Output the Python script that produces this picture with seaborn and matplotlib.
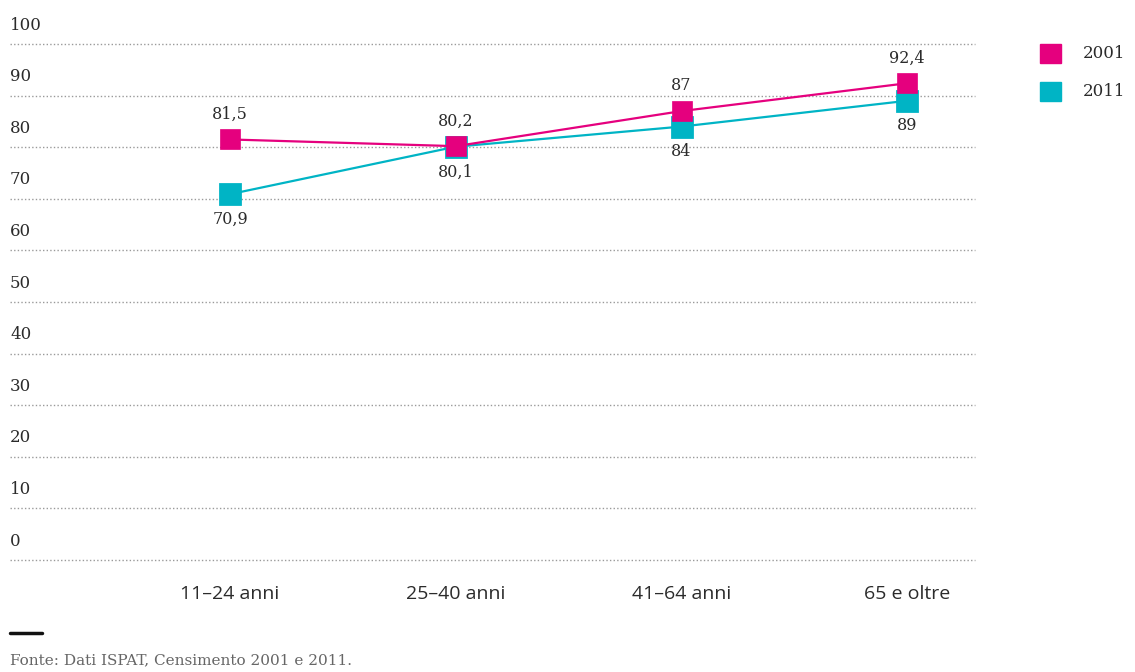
import pandas as pd
import seaborn as sns
import matplotlib.pyplot as plt

# data
categories = ['11–24 anni', '25–40 anni', '41–64 anni', '65 e oltre']
values_2001 = [81.5, 80.2, 87, 92.4]
values_2011 = [70.9, 80.1, 84, 89]
labels_2001 = ['81,5', '80,2', '87', '92,4']
labels_2011 = ['70,9', '80,1', '84', '89']
y_ticks = [0, 10, 20, 30, 40, 50, 60, 70, 80, 90, 100]
years = ['2001', '2011']

PINK = '#e5007e'
CYAN = '#00b4c5'
TEXT = '#2b2b2b'
SERIF = ['DejaVu Serif']


def make_chart():
    df = pd.DataFrame({
        'categoria': categories * 2,
        'valore': values_2001 + values_2011,
        'anno': ['2001'] * 4 + ['2011'] * 4,
    })
    df['x'] = df['categoria'].map({c: i for i, c in enumerate(categories)})

    sns.set_style('white')
    fig = plt.figure(figsize=(11.35, 6.72), dpi=100)
    ax = fig.add_axes([10 / 1135, 1 - 560 / 672, 965 / 1135, (560 - 44) / 672])

    # dotted gridlines with the value written above each one
    for t in y_ticks:
        ax.axhline(t, color='#9a9a9a', lw=1.0, ls=(0, (1, 1.6)), zorder=0, clip_on=False)
        ax.text(0.0, t + 2.0, str(t), transform=ax.get_yaxis_transform(),
                ha='left', va='bottom', fontsize=12, color=TEXT, family=SERIF)

    # 2011 underneath, 2001 on top
    sns.lineplot(data=df[df['anno'] == '2011'], x='x', y='valore', ax=ax,
                 color=CYAN, lw=1.6, marker='s', markersize=15,
                 markeredgecolor=CYAN, markeredgewidth=2, zorder=3)
    sns.lineplot(data=df[df['anno'] == '2001'], x='x', y='valore', ax=ax,
                 color=PINK, lw=1.6, marker='s', markersize=15,
                 markeredgecolor=PINK, markeredgewidth=0.5, zorder=4)

    for i in range(len(categories)):
        ax.annotate(labels_2001[i], (i, values_2001[i]), xytext=(0, 12),
                    textcoords='offset points', ha='center', va='bottom',
                    fontsize=11.5, color=TEXT, family=SERIF)
        ax.annotate(labels_2011[i], (i, values_2011[i]), xytext=(0, -12),
                    textcoords='offset points', ha='center', va='top',
                    fontsize=11.5, color=TEXT, family=SERIF)

    ax.set_xlim(-0.975, 3.3)
    ax.set_ylim(0, 100)
    ax.set_xticks(range(len(categories)))
    ax.set_xticklabels(categories, fontsize=14, color=TEXT,
                       family=['Open Sans', 'DejaVu Sans'], stretch='semi-condensed')
    ax.tick_params(axis='x', length=0, pad=18)
    ax.set_yticks([])
    ax.set_xlabel('')
    ax.set_ylabel('')
    for s in ax.spines.values():
        s.set_visible(False)
    ax.patch.set_alpha(0)

    # legend drawn by hand as squares + text
    for j, (yr, col) in enumerate(zip(years, [PINK, CYAN])):
        y = 1 - (54 + 38 * j) / 672
        fig.patches.append(plt.Rectangle((1040 / 1135, y - 9 / 672), 21 / 1135, 19 / 672,
                                         transform=fig.transFigure, color=col))
        fig.text(1083 / 1135, y, yr, fontsize=12, color=TEXT, family=SERIF,
                 va='center', ha='left')

    # footer
    fig.add_artist(plt.Line2D([10 / 1135, 42 / 1135], [1 - 633 / 672, 1 - 633 / 672],
                              color='#111111', lw=2.5, transform=fig.transFigure))
    fig.text(10 / 1135, 1 - 660 / 672, 'Fonte: Dati ISPAT, Censimento 2001 e 2011.',
             fontsize=11, color='#666666', family=SERIF, va='center', ha='left')

    fig.savefig('out.png', dpi=100, facecolor='white')
    plt.close(fig)


if __name__ == '__main__':
    make_chart()
